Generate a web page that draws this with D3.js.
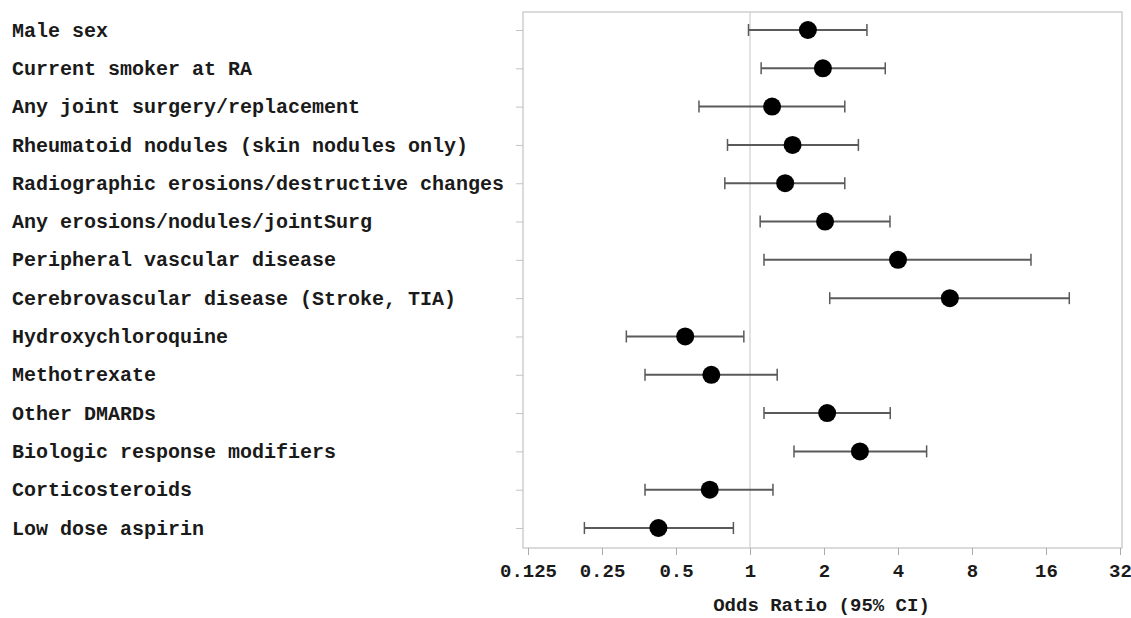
<!DOCTYPE html>
<html lang="en">
<head>
<meta charset="utf-8">
<script src="https://d3js.org/d3.v7.min.js"></script>
<title>Odds ratios</title>
<style>
  body { margin: 0; background: #fff; }
  svg text { font-family: "Liberation Mono", "DejaVu Sans Mono", monospace; font-weight: bold; fill: #1a1a1a; }
</style>
</head>
<body>
<div id="chart"></div>
<script>
// data
const labels = [
  "Male sex",
  "Current smoker at RA",
  "Any joint surgery/replacement",
  "Rheumatoid nodules (skin nodules only)",
  "Radiographic erosions/destructive changes",
  "Any erosions/nodules/jointSurg",
  "Peripheral vascular disease",
  "Cerebrovascular disease (Stroke, TIA)",
  "Hydroxychloroquine",
  "Methotrexate",
  "Other DMARDs",
  "Biologic response modifiers",
  "Corticosteroids",
  "Low dose aspirin"
];
const oddsRatio = [1.72, 1.98, 1.23, 1.49, 1.39, 2.02, 4.0, 6.5, 0.545, 0.696, 2.06, 2.80, 0.686, 0.424];
const ciLow     = [0.986, 1.11, 0.62, 0.81, 0.79, 1.10, 1.14, 2.11, 0.314, 0.374, 1.14, 1.51, 0.374, 0.212];
const ciHigh    = [2.99, 3.55, 2.43, 2.76, 2.43, 3.71, 13.9, 19.9, 0.944, 1.29, 3.72, 5.23, 1.24, 0.856];
const xTicks = [0.125, 0.25, 0.5, 1, 2, 4, 8, 16, 32];
const xTitle = "Odds Ratio (95% CI)";

const W = 1131, H = 618;
const frame = {left: 523, right: 1122, top: 12, bottom: 548};

const svg = d3.select("#chart").append("svg")
  .attr("width", W).attr("height", H);

const x = d3.scaleLog().base(2)
  .domain([0.125 * Math.pow(2, -5 / 74), 32 * Math.pow(2, 2 / 74)])
  .range([frame.left, frame.right]);

const y = d3.scalePoint()
  .domain(d3.range(labels.length))
  .range([30, 528]);

// frame
svg.append("rect")
  .attr("x", frame.left).attr("y", frame.top)
  .attr("width", frame.right - frame.left).attr("height", frame.bottom - frame.top)
  .attr("fill", "none").attr("stroke", "#c4c4c4").attr("stroke-width", 1.2);

// x axis
const xAxis = svg.append("g")
  .attr("transform", `translate(0,${frame.bottom})`)
  .call(d3.axisBottom(x).tickValues(xTicks).tickFormat(d => String(d)).tickSizeOuter(0).tickSize(7).tickPadding(9));
xAxis.select(".domain").remove();
xAxis.selectAll("line").attr("stroke", "#aaa");
xAxis.selectAll("text").attr("font-size", 19).attr("fill", "#1a1a1a")
  .style("font-family", "'Liberation Mono', monospace").style("font-weight", "bold");

// y axis
const yAxis = svg.append("g")
  .attr("transform", `translate(${frame.left},0)`)
  .call(d3.axisLeft(y).tickSize(7).tickFormat(""));
yAxis.select(".domain").remove();
yAxis.selectAll("line").attr("stroke", "#c4c4c4");

// labels
svg.append("g").selectAll("text")
  .data(labels)
  .join("text")
  .attr("x", 12)
  .attr("y", (d, i) => y(i))
  .attr("dy", "0.33em")
  .attr("font-size", 20)
  .text(d => d);

// reference line at 1
svg.append("line")
  .attr("x1", x(1)).attr("x2", x(1))
  .attr("y1", frame.top).attr("y2", frame.bottom)
  .attr("stroke", "#cfcfcf").attr("stroke-width", 1.2);

// CIs
const rows = labels.map((l, i) => ({i, or: oddsRatio[i], lo: ciLow[i], hi: ciHigh[i]}));
const g = svg.append("g");
g.selectAll("line.ci")
  .data(rows).join("line")
  .attr("class", "ci")
  .attr("x1", d => x(d.lo)).attr("x2", d => x(d.hi))
  .attr("y1", d => y(d.i)).attr("y2", d => y(d.i))
  .attr("stroke", "#5a5a5a").attr("stroke-width", 2);
["lo", "hi"].forEach(k => {
  g.selectAll("line.cap-" + k)
    .data(rows).join("line")
    .attr("class", "cap-" + k)
    .attr("x1", d => x(d[k])).attr("x2", d => x(d[k]))
    .attr("y1", d => y(d.i) - 6).attr("y2", d => y(d.i) + 6)
    .attr("stroke", "#5a5a5a").attr("stroke-width", 1.5);
});
g.selectAll("circle")
  .data(rows).join("circle")
  .attr("cx", d => x(d.or)).attr("cy", d => y(d.i))
  .attr("r", 9)
  .attr("fill", "#000");

// x title
svg.append("text")
  .attr("x", (frame.left + frame.right) / 2 - 1)
  .attr("y", 611)
  .attr("text-anchor", "middle")
  .attr("font-size", 19)
  .text(xTitle);
</script>
</body>
</html>
